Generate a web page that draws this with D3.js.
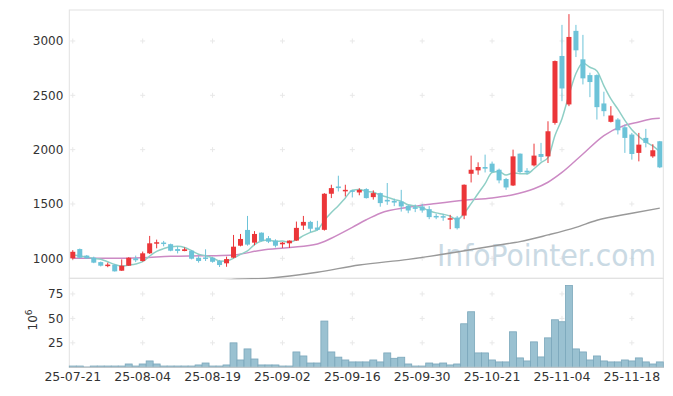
<!DOCTYPE html>
<html><head><meta charset="utf-8">
<script src="https://cdn.jsdelivr.net/npm/d3@7"></script>
<style>html,body{margin:0;padding:0;background:#fff;}svg{display:block;}</style>
</head><body><svg id="c" width="673" height="396"></svg>
<script>
const dates = ["25-07-21","25-07-22","25-07-23","25-07-24","25-07-25","25-07-28","25-07-29","25-07-30","25-07-31","25-08-01",
"25-08-04","25-08-05","25-08-06","25-08-07","25-08-08","25-08-11","25-08-12","25-08-13","25-08-14","25-08-18",
"25-08-19","25-08-20","25-08-21","25-08-22","25-08-25","25-08-26","25-08-27","25-08-28","25-08-29","25-09-01",
"25-09-02","25-09-03","25-09-04","25-09-05","25-09-08","25-09-09","25-09-10","25-09-11","25-09-12","25-09-15",
"25-09-16","25-09-17","25-09-18","25-09-19","25-09-22","25-09-23","25-09-24","25-09-25","25-09-26","25-09-29",
"25-09-30","25-10-01","25-10-02","25-10-10","25-10-13","25-10-14","25-10-15","25-10-16","25-10-17","25-10-20",
"25-10-21","25-10-22","25-10-23","25-10-24","25-10-27","25-10-28","25-10-29","25-10-30","25-10-31","25-11-03",
"25-11-04","25-11-05","25-11-06","25-11-07","25-11-10","25-11-11","25-11-12","25-11-13","25-11-14","25-11-17",
"25-11-18","25-11-19","25-11-20","25-11-21","25-11-24"];
const open = [1000,1085,1025,1005,965,935,940,886,932,1000,975,1046,1138,1145,1130,1085,1067,1070,1005,1008,
1005,975,954,1006,1116,1261,1144,1236,1185,1163,1129,1138,1163,1301,1335,1283,1262,1594,1661,1619,
1625,1606,1637,1563,1600,1538,1529,1523,1483,1471,1477,1452,1390,1388,1360,1375,1393,1778,1809,1840,
1871,1815,1730,1670,1963,1806,1855,1960,1938,2246,2862,2416,3093,2831,2686,2686,2425,2256,2277,2206,
2139,1970,2108,1938,2077];
const high = [1075,1090,1030,1015,970,960,945,990,1010,1025,1062,1206,1172,1160,1135,1110,1100,1075,1020,1083,
1010,985,1015,1215,1224,1390,1250,1238,1205,1175,1150,1165,1338,1390,1345,1345,1600,1677,1760,1677,
1630,1645,1645,1625,1605,1693,1550,1630,1490,1495,1500,1480,1410,1405,1400,1390,1680,1945,1883,1954,
1890,1825,1740,2000,1965,1830,2055,2062,2261,2820,3148,3247,3148,3056,2708,2693,2533,2400,2290,2230,
2154,2154,2191,2050,2080];
const low = [988,1000,995,955,925,918,878,884,930,965,970,1040,1092,1110,1065,1045,1065,990,960,975,
960,920,922,1000,1110,1116,1120,1155,1140,1100,1095,1095,1160,1261,1240,1255,1255,1554,1615,1569,
1560,1580,1550,1540,1475,1492,1480,1430,1415,1425,1420,1360,1360,1345,1268,1265,1360,1698,1769,1790,
1790,1690,1630,1665,1785,1770,1845,1892,1877,2230,2446,2400,2852,2600,2483,2277,2307,2250,2140,1970,
1908,1892,2021,1925,1830];
const close = [1060,1005,1000,960,932,942,880,932,1005,982,1046,1138,1148,1132,1070,1068,1083,996,975,998,
968,938,993,1107,1178,1126,1224,1160,1153,1116,1144,1163,1280,1335,1272,1262,1594,1646,1646,1630,
1620,1630,1554,1600,1508,1523,1513,1477,1440,1455,1440,1379,1376,1376,1369,1277,1677,1815,1840,1825,
1795,1717,1652,1938,1794,1790,1945,1933,2169,2815,2563,3037,2914,2656,2622,2391,2354,2314,2178,2108,
1960,2046,2062,1994,1837];
const volume = [1.3,1.3,0.3,1.3,1.3,1.3,1.3,1.3,3.4,1.3,3.4,6.5,3.4,1.3,1.3,1.3,1.3,1.3,2.4,4.4,
1.3,1.3,2.4,25,7.5,18.8,8.5,2.4,2.4,2.4,1.3,1.3,15.7,11.6,4.4,4.4,47.3,15.7,10.4,7.5,
5.5,5.5,5.5,7.5,5.5,14.7,9.2,10.3,3.4,1.3,1.3,4.4,3.4,4.4,2.4,3.4,44.5,56.8,14.7,14.7,
7.5,5.5,5.5,36.3,9.6,6.5,26,10.6,30.1,48.6,46.6,83.6,18.8,15.7,7.5,11.6,6.5,5.5,5.5,7.5,
6.5,9.6,5.5,3.4,5.5];
const ma5 = [1030,1022,1012,1000,991,968,943,929,938,948,969,1021,1064,1089,1107,1111,1100,1070,1038,1024,
1004,975,974,1001,1037,1068,1126,1159,1168,1156,1159,1147,1171,1208,1239,1262,1349,1422,1484,1556,
1627,1634,1616,1607,1582,1563,1540,1524,1492,1482,1465,1438,1418,1405,1388,1355,1415,1503,1596,1687,
1790,1798,1766,1785,1779,1778,1824,1880,1926,2130,2285,2503,2700,2797,2758,2724,2587,2467,2372,2269,
2183,2121,2071,2034,1980];
const ma20Idx = [0,3,7,10,14,17,20,23,27,31,35,36,37,40,42,44,48,52,56,60,63,66,68,70,73,76,79,81,83,84];
const ma20Val = [1000,1000,1000,1005,1018,1022,1024,1030,1075,1100,1132,1155,1185,1285,1355,1415,1470,1505,1535,1555,1585,1640,1700,1790,1960,2130,2225,2255,2285,2288];
const ma60Idx = [20,23,28,35,41,48,55,61,64,68,72,75,80,84];
const ma60Val = [780,805,818,872,938,990,1058,1123,1153,1215,1285,1350,1415,1462];
const priceTicks = [1000,1500,2000,2500,3000];
const volTicks = [25,50,75];
const dateTickIdx = [0,10,20,30,40,50,60,70,80];

const svg = d3.select("#c");
const L = 69.3, R = 663.3, T = 10, MB = 278.3, VB = 367.3;
const font = "DejaVu Sans";
const n = dates.length;
const x = d3.scaleBand().domain(d3.range(n)).range([L, R]).padding(0);
const cx = i => x(i) + x.bandwidth() / 2;
const y = d3.scaleLinear().domain([816, 3285]).range([MB, T]);
const yv = d3.scaleLinear().domain([0, 91]).range([VB, MB]);

svg.append("defs").append("clipPath").attr("id","clipMain")
  .append("rect").attr("x", L).attr("y", T).attr("width", R - L).attr("height", MB - T + 1);

// grid crosses
const cross = (g, xs, ys) => {
  xs.forEach(px => ys.forEach(py => {
    g.append("line").attr("x1", px - 2.5).attr("x2", px + 2.5).attr("y1", py).attr("y2", py);
    g.append("line").attr("x1", px).attr("x2", px).attr("y1", py - 2.5).attr("y2", py + 2.5);
  }));
};
const grid = svg.append("g").attr("stroke", "#e8e8e8").attr("stroke-width", 1);
cross(grid, dateTickIdx.map(cx), priceTicks.map(y));
cross(grid, dateTickIdx.map(cx), volTicks.map(yv));

// panel borders
svg.append("rect").attr("x", L).attr("y", T).attr("width", R - L).attr("height", MB - T)
  .attr("fill", "none").attr("stroke", "#e2e2e2");
svg.append("rect").attr("x", L).attr("y", MB).attr("width", R - L).attr("height", VB - MB)
  .attr("fill", "none").attr("stroke", "#e2e2e2");

// watermark
svg.append("text").attr("x", 437).attr("y", 266).attr("font-family", font).attr("font-size", 31)
  .attr("textLength", 219).attr("lengthAdjust", "spacingAndGlyphs")
  .attr("fill", "#b9cedb").attr("opacity", 0.75).text("InfoPointer.com");

const main = svg.append("g").attr("clip-path", "url(#clipMain)");

// moving averages
const line = d3.line().curve(d3.curveMonotoneX);
main.append("path").attr("d", line(ma60Idx.map((i, k) => [cx(i), y(ma60Val[k])])))
  .attr("fill", "none").attr("stroke", "#999").attr("stroke-width", 1.4);
main.append("path").attr("d", line(ma20Idx.map((i, k) => [cx(i), y(ma20Val[k])])))
  .attr("fill", "none").attr("stroke", "#cc8ac4").attr("stroke-width", 1.5);
main.append("path").attr("d", line(ma5.map((v, i) => [cx(i), y(v)])))
  .attr("fill", "none").attr("stroke", "#8fcfc6").attr("stroke-width", 1.5);

// candles
const up = "#eb3639", dn = "#6cc3d8";
const cg = main.append("g");
d3.range(n).forEach(i => {
  const col = close[i] >= open[i] ? up : dn;
  cg.append("line").attr("x1", cx(i)).attr("x2", cx(i)).attr("y1", y(high[i])).attr("y2", y(low[i]))
    .attr("stroke", col).attr("stroke-width", 1);
  const top = y(Math.max(open[i], close[i])), bot = y(Math.min(open[i], close[i]));
  cg.append("rect").attr("x", cx(i) - 2.5).attr("width", 5).attr("y", top)
    .attr("height", Math.max(1.5, bot - top)).attr("fill", col);
});

// volume bars
svg.append("g").selectAll("rect").data(volume).join("rect")
  .attr("x", (d, i) => x(i)).attr("width", x.bandwidth())
  .attr("y", d => yv(d)).attr("height", d => VB - yv(d))
  .attr("fill", "#9ac1d1").attr("stroke", "#7ba7bb").attr("stroke-width", 0.8);

// axes
const yAxis = d3.axisLeft(y).tickValues(priceTicks).tickFormat(d3.format("d")).tickSize(0).tickPadding(6);
const ga = svg.append("g").attr("transform", `translate(${L},0)`).call(yAxis);
const yvAxis = d3.axisLeft(yv).tickValues(volTicks).tickFormat(d3.format("d")).tickSize(0).tickPadding(6);
const gv = svg.append("g").attr("transform", `translate(${L},0)`).call(yvAxis);
const xAxis = d3.axisBottom(x).tickValues(dateTickIdx).tickFormat(i => dates[i]).tickSize(0).tickPadding(5);
const gx = svg.append("g").attr("transform", `translate(0,${VB})`).call(xAxis);
[ga, gv, gx].forEach(g => {
  g.select(".domain").remove();
  g.selectAll("text").attr("font-family", font).attr("font-size", 12).attr("fill", "#333");
});
gx.selectAll("text").attr("font-size", 12.5);
svg.append("line").attr("x1", L).attr("x2", R).attr("y1", VB).attr("y2", VB).attr("stroke", "#ccc");

// 10^6 label
const lab = svg.append("text").attr("transform", "translate(37,320) rotate(-90)")
  .attr("text-anchor", "middle").attr("font-family", font).attr("font-size", 12).attr("fill", "#333");
lab.append("tspan").text("10");
lab.append("tspan").attr("dy", -5).attr("font-size", 9).text("6");
</script></body></html>
